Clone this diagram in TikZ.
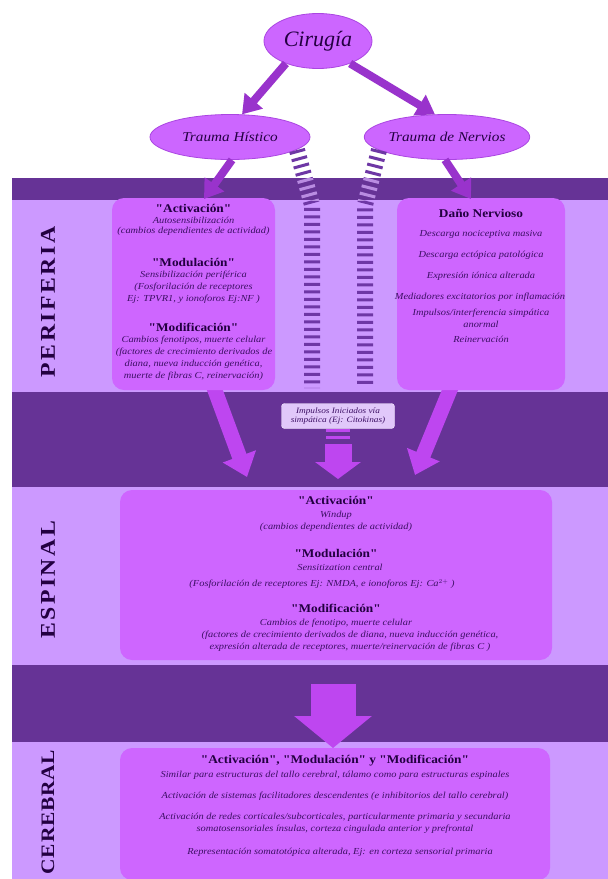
\documentclass[tikz,border=0pt]{standalone}
\usepackage{fontspec}
\setmainfont{Liberation Serif}[Ligatures=TeXOff]
\newfontfamily\widefont{Liberation Serif}[Ligatures=TeXOff, FakeStretch=1.13]
\usetikzlibrary{arrows.meta,shapes.geometric}
\definecolor{darkband}{RGB}{102,51,150}
\definecolor{lightband}{RGB}{204,153,255}
\definecolor{boxfill}{RGB}{206,102,255}
\definecolor{ellfill}{RGB}{204,102,255}
\definecolor{ellline}{RGB}{170,70,225}
\definecolor{arrowtop}{RGB}{153,51,204}
\definecolor{arrowband}{RGB}{190,70,240}
\definecolor{stripedark}{RGB}{110,55,165}
\definecolor{stripelight}{RGB}{185,140,225}
\definecolor{txt}{RGB}{60,15,100}
\definecolor{headtxt}{RGB}{35,0,65}
\definecolor{impfill}{RGB}{225,200,250}
\begin{document}
\begin{tikzpicture}[x=1pt,y=-1pt,
  ell/.style={ellipse, fill=ellfill, draw=ellline, line width=0.8pt, inner sep=0pt},
  pbox/.style={rectangle, rounded corners=12pt, fill=boxfill, inner sep=0pt},
  hd/.style={font=\widefont\bfseries\fontsize{11.8}{13}\selectfont, text=headtxt, inner sep=0pt},
  sm/.style={font=\widefont\itshape\fontsize{9.2}{11}\selectfont, text=txt, inner sep=0pt},
  lab/.style={font=\widefont\bfseries\fontsize{21}{21}\selectfont\addfontfeature{LetterSpace=12}, text=headtxt, rotate=90, inner sep=0pt},
  toparrow/.style={draw=arrowtop, line width=8pt, -{Triangle[width=23pt,length=18pt]}},
  bandarrow/.style={draw=arrowband, line width=15pt, -{Triangle[width=34pt,length=22pt]}},
  stripes/.style={line width=16pt, dash pattern=on 3pt off 4.5pt}
]
\useasboundingbox (0,0) rectangle (608,879);
\fill[white] (0,0) rectangle (608,879);
% bands
\fill[darkband]  (12,178) rectangle (608,200);
\fill[lightband] (12,200) rectangle (608,392);
\fill[darkband]  (12,392) rectangle (608,487);
\fill[lightband] (12,487) rectangle (608,665);
\fill[darkband]  (12,665) rectangle (608,742);
\fill[lightband] (12,742) rectangle (608,879);

% side labels
\node[lab] (lper) at (48,302) {PERIFERIA};
\node[lab] (lesp) at (48,580) {ESPINAL};
\node[lab, font=\widefont\bfseries\fontsize{19}{19}\selectfont\addfontfeature{LetterSpace=4}] (lcer) at (48,812) {CEREBRAL};

% ellipses
\node[ell, minimum width=108pt, minimum height=55pt] (cir) at (318,41)
  {\itshape\fontsize{22}{22}\selectfont\color{headtxt}Cirugía};
\node[ell, minimum width=160pt, minimum height=45pt] (th) at (230,137)
  {\widefont\itshape\fontsize{13.5}{14}\selectfont\color{headtxt}Trauma Hístico};
\node[ell, minimum width=160pt, minimum height=45pt] (tn) at (447,137)
  {\widefont\itshape\fontsize{13.5}{14}\selectfont\color{headtxt}Trauma de Nervios};

% coordinates
\coordinate (lt) at (204,199);
\coordinate (rt) at (471,199);
\coordinate (ls) at (213,385);
\coordinate (rs) at (452,385);
\coordinate (le) at (247,477);
\coordinate (re) at (415,475);
\coordinate (m1) at (338,447);
\coordinate (m2) at (338,444);
\coordinate (me) at (338,479);
\coordinate (bs) at (333,684);
\coordinate (be) at (333,748);

% band arrows (behind boxes)
\draw[bandarrow] (ls) -- (le);
\draw[bandarrow] (rs) -- (re);

% boxes
\node[pbox, minimum width=163pt, minimum height=192pt] (lbox) at (193.5,294) {};
\node[pbox, minimum width=168pt, minimum height=192pt] (rbox) at (481,294) {};
\node[pbox, minimum width=432pt, minimum height=170pt] (ebox) at (336,575) {};
\node[pbox, minimum width=430pt, minimum height=132pt] (cbox) at (335,814) {};
\node[rectangle, rounded corners=3pt, fill=impfill, draw=white!70!impfill, minimum width=113pt, minimum height=25pt, inner sep=0pt] (imp) at (338,416) {};
\node[sm, font=\widefont\itshape\fontsize{8.2}{9.5}\selectfont, align=center] (imptxt) at (imp.center)
  {Impulsos Iniciados vía\\simpática (Ej: Citokinas)};

% stripes from ellipses
\coordinate (s1a) at (297,150); \coordinate (s1b) at (312,205); \coordinate (s1c) at (312,388);
\coordinate (s2a) at (379,150); \coordinate (s2b) at (365,205); \coordinate (s2c) at (365,388);
\draw[stripes, stripedark] (s1a) -- (s1b) -- (s1c);
\draw[stripes, stripedark] (s2a) -- (s2b) -- (s2c);
\begin{scope}
  \clip (12,178) rectangle (608,200);
  \draw[stripes, stripelight] (s1a) -- (s1b) -- (s1c);
  \draw[stripes, stripelight] (s2a) -- (s2b) -- (s2c);
\end{scope}

% top arrows
\draw[toparrow] (cir.-145) -- (th.62);
\draw[toparrow] (cir.-35) -- (tn.118);
\draw[toparrow] (th.-85) -- (lt);
\draw[toparrow] (tn.-95) -- (rt);

% middle and lower arrows
\draw[stripes, arrowband, line width=24pt] (imp.south) -- (m1);
\draw[draw=arrowband, line width=27pt, -{Triangle[width=45pt,length=17pt]}] (m2) -- (me);
\draw[draw=arrowband, line width=45pt, -{Triangle[width=76pt,length=32pt]}] (bs) -- (be);

% periphery left box texts
\node[hd] (la1) at (193.5,208) {"Activación"};
\node[sm] (la2) at (193.5,220) {Autosensibilización};
\node[sm] (la3) at (193.5,231.5) {(cambios dependientes de actividad)};
\node[hd] (lm1) at (193.5,262) {"Modulación"};
\node[sm] (lm2) at (193.5,275) {Sensibilización periférica};
\node[sm] (lm3) at (193.5,287) {(Fosforilación de receptores};
\node[sm] (lm4) at (193.5,299) {Ej: TPVR1, y ionoforos Ej:NF )};
\node[hd] (lf1) at (193.5,327) {"Modificación"};
\node[sm] (lf2) at (193.5,340) {Cambios fenotipos, muerte celular};
\node[sm] (lf3) at (194,352) {(factores de crecimiento derivados de};
\node[sm] (lf4) at (193.5,364) {diana, nueva inducción genética,};
\node[sm] (lf5) at (193.5,376) {muerte de fibras C, reinervación)};

% periphery right box texts
\node[hd] (r1) at (481,213) {Daño Nervioso};
\node[sm] (r2) at (481,234) {Descarga nociceptiva masiva};
\node[sm] (r3) at (481,255) {Descarga ectópica patológica};
\node[sm] (r4) at (481,276) {Expresión iónica alterada};
\node[sm] (r5) at (480,297) {Mediadores excitatorios por inflamación};
\node[sm] (r6) at (481,313) {Impulsos/interferencia simpática};
\node[sm] (r7) at (481,324) {anormal};
\node[sm] (r8) at (481,339) {Reinervación};

% spinal texts
\node[hd] (ea1) at (336,500) {"Activación"};
\node[sm] (ea2) at (336,515) {Windup};
\node[sm] (ea3) at (336,527) {(cambios dependientes de actividad)};
\node[hd] (em1) at (336,553) {"Modulación"};
\node[sm] (em2) at (340,567) {Sensitization central};
\node[sm] (em3) at (322,584) {(Fosforilación de receptores Ej: NMDA, e ionoforos Ej: Ca$^{2+}$ )};
\node[hd] (ef1) at (336,608) {"Modificación"};
\node[sm] (ef2) at (336,623) {Cambios de fenotipo, muerte celular};
\node[sm] (ef3) at (350,635) {(factores de crecimiento derivados de diana, nueva inducción genética,};
\node[sm] (ef4) at (350,647) {expresión alterada de receptores, muerte/reinervación de fibras C )};

% cerebral texts
\node[hd] (c1) at (335,761) {"Activación", "Modulación" y "Modificación"};
\node[sm] (c2) at (335,775) {Similar para estructuras del tallo cerebral, tálamo como para estructuras espinales};
\node[sm] (c3) at (335,796) {Activación de sistemas facilitadores descendentes (e inhibitorios del tallo cerebral)};
\node[sm] (c4) at (335,817) {Activación de redes corticales/subcorticales, particularmente primaria y secundaria};
\node[sm] (c5) at (335,829) {somatosensoriales ínsulas, corteza cingulada anterior y prefrontal};
\node[sm] (c6) at (340,852) {Representación somatotópica alterada, Ej: en corteza sensorial primaria};
\end{tikzpicture}
\end{document}
